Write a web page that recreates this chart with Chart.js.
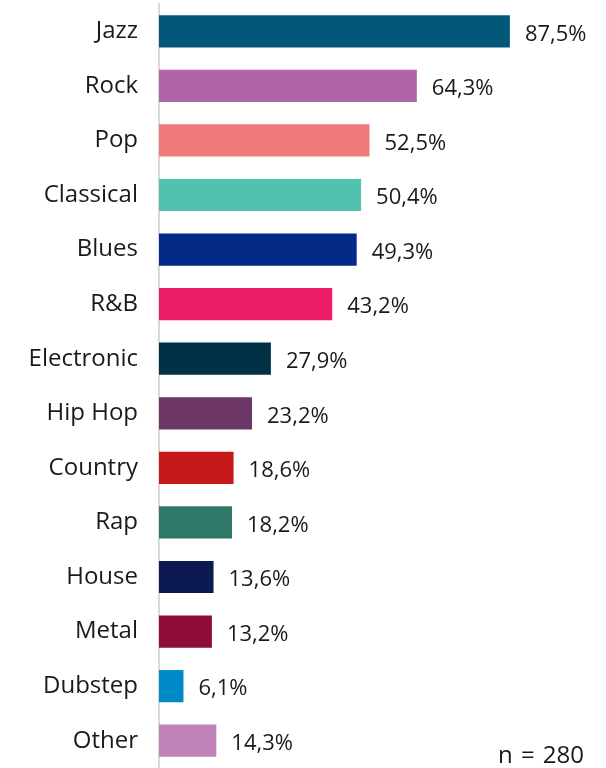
<!DOCTYPE html>
<html>
<head>
<meta charset="utf-8">
<script src="https://cdn.jsdelivr.net/npm/chart.js@4"></script>
<style>
  body { margin: 0; background: #fff; }
  #wrap { position: relative; width: 606px; height: 768px; overflow: hidden; }
  #n { position: absolute; right: 22px; bottom: -2px; font: 24px "Open Sans", sans-serif; color: #1a1a1a; word-spacing: 2px; }
</style>
</head>
<body>
<div id="wrap">
  <canvas id="chart" width="606" height="768"></canvas>
  <div id="n">n = 280</div>
</div>
<script>
const genres = ["Jazz", "Rock", "Pop", "Classical", "Blues", "R&B", "Electronic",
  "Hip Hop", "Country", "Rap", "House", "Metal", "Dubstep", "Other"];
const shares = [87.5, 64.3, 52.5, 50.4, 49.3, 43.2, 27.9, 23.2, 18.6, 18.2, 13.6, 13.2, 6.1, 14.3];
const barColors = ["#03587a", "#b065a9", "#f07a7a", "#52c1ad", "#022a86", "#ec1c66", "#013147",
  "#6c3767", "#c5191a", "#2f7868", "#0d1a52", "#8e0d3a", "#0089c7", "#c084bb"];

const FONT = '"Open Sans", sans-serif';

// percent labels just past the end of each bar, decimal comma
const valueLabels = {
  id: 'valueLabels',
  afterDatasetsDraw(chart) {
    const ctx = chart.ctx;
    const meta = chart.getDatasetMeta(0);
    ctx.save();
    ctx.font = '22px ' + FONT;
    ctx.fillStyle = '#1a1a1a';
    ctx.textAlign = 'left';
    ctx.textBaseline = 'middle';
    meta.data.forEach((bar, i) => {
      const txt = shares[i].toFixed(1).replace('.', ',') + '%';
      ctx.fillText(txt, bar.x + 15, bar.y + 3);
    });
    ctx.restore();
  }
};

new Chart(document.getElementById('chart'), {
  type: 'bar',
  data: {
    labels: genres,
    datasets: [{
      data: shares,
      backgroundColor: barColors,
      categoryPercentage: 1,
      barPercentage: 0.59
    }]
  },
  options: {
    indexAxis: 'y',
    responsive: false,
    animation: false,
    layout: { padding: { top: 4, right: 46, bottom: 0, left: 0 } },
    plugins: { legend: { display: false }, tooltip: { enabled: false } },
    scales: {
      x: { display: false, min: 0, max: 100 },
      y: {
        afterFit(scale) {
          scale.width = 159;
          scale.paddingTop = 0;
          scale.paddingBottom = 0;
        },
        grid: { display: false },
        border: { display: true, color: '#d9d9d9', width: 2 },
        ticks: { color: '#1a1a1a', padding: 13, font: { family: FONT, size: 24 } }
      }
    }
  },
  plugins: [valueLabels]
});
</script>
</body>
</html>
